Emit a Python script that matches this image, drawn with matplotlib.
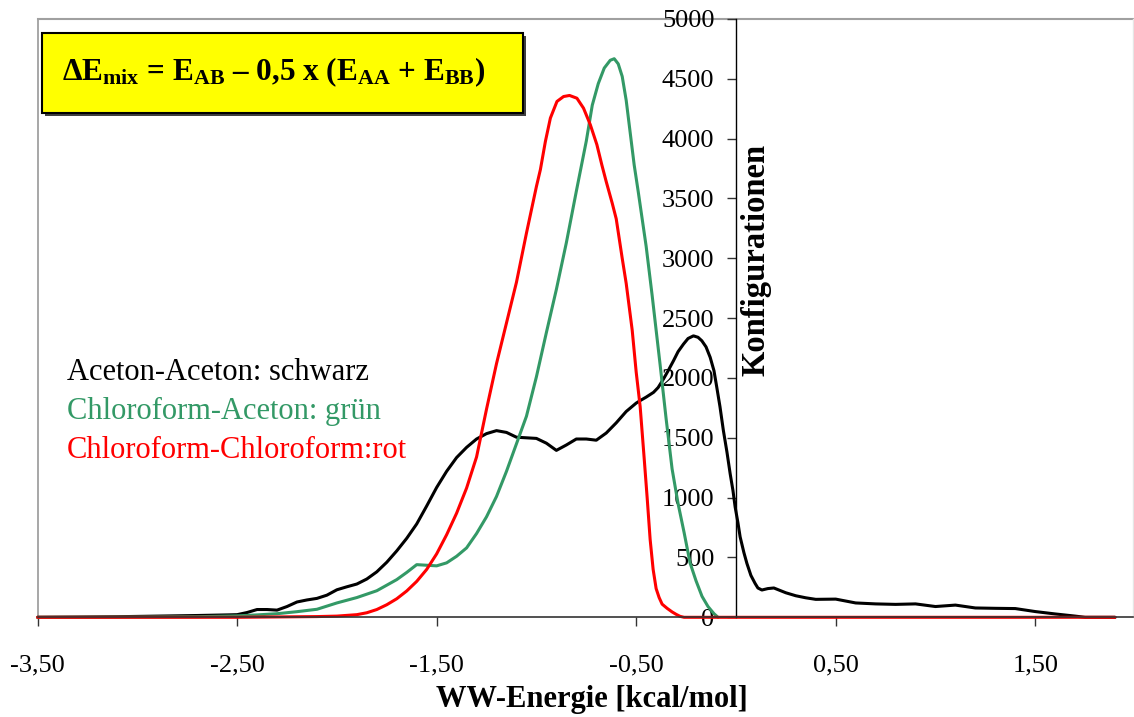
import matplotlib
matplotlib.use("Agg")
import matplotlib.pyplot as plt
from matplotlib.lines import Line2D
from matplotlib.patches import Rectangle

plt.rcParams['font.family'] = ['Liberation Serif', 'DejaVu Serif']
plt.rcParams['mathtext.fontset'] = 'custom'
plt.rcParams['mathtext.rm'] = 'Liberation Serif'
plt.rcParams['mathtext.bf'] = 'Liberation Serif:bold'
plt.rcParams['mathtext.it'] = 'Liberation Serif:italic'

# ---------------- data ----------------
black_x = [-3.5, -3.3, -3.1, -2.9, -2.7, -2.55, -2.5, -2.45, -2.4, -2.35, -2.3, -2.25, -2.2,
           -2.15, -2.1, -2.05, -2.0, -1.95, -1.9, -1.85, -1.8, -1.75, -1.7, -1.65, -1.6,
           -1.55, -1.5, -1.45, -1.4, -1.35, -1.3, -1.25, -1.2, -1.15, -1.1, -1.05, -1.0,
           -0.95, -0.9, -0.85, -0.8, -0.75, -0.7, -0.65, -0.6, -0.55, -0.5, -0.48, -0.45,
           -0.413, -0.39, -0.363, -0.34, -0.313, -0.29, -0.263, -0.24, -0.213, -0.19,
           -0.171, -0.15, -0.129, -0.11, -0.096, -0.08, -0.063, -0.045, -0.029, -0.015,
           -0.004, 0.01, 0.021, 0.04, 0.055, 0.075, 0.096, 0.11, 0.13, 0.16, 0.19, 0.22,
           0.25, 0.3, 0.35, 0.4, 0.5, 0.6, 0.7, 0.8, 0.9, 1.0, 1.1, 1.2, 1.3, 1.4, 1.5,
           1.6, 1.7, 1.75, 1.9]
black_y = [0, 2, 5, 10, 15, 20, 22, 40, 65, 65, 60, 90, 128,
           145, 158, 185, 230, 255, 278, 320, 380, 460, 555, 660, 780,
           930, 1085, 1220, 1335, 1420, 1490, 1535, 1560, 1545, 1505, 1500, 1495,
           1455, 1395, 1440, 1490, 1490, 1480, 1540, 1625, 1720, 1790, 1811, 1840,
           1880, 1920, 1992, 2060, 2144, 2220, 2283, 2330, 2352, 2340,
           2311, 2260, 2172, 2060, 1922, 1760, 1561, 1380, 1200, 1060,
           922, 790, 672, 540, 450, 350, 283, 245, 228, 240, 245, 225,
           205, 180, 163, 150, 152, 120, 112, 108, 112, 90, 102, 78, 75, 73, 48,
           28, 10, 0, 0]

green_x = [-3.5, -3.0, -2.7, -2.5, -2.4, -2.3, -2.2, -2.1, -2.0, -1.9, -1.8, -1.7, -1.65,
           -1.6, -1.55, -1.5, -1.45, -1.4, -1.35, -1.3, -1.25, -1.2, -1.15, -1.1, -1.05,
           -1.0, -0.95, -0.9, -0.85, -0.8, -0.75, -0.72, -0.69, -0.66, -0.63, -0.61,
           -0.59, -0.57, -0.55, -0.53, -0.51, -0.49, -0.47, -0.45, -0.42, -0.4, -0.38,
           -0.35, -0.32, -0.29, -0.26, -0.23, -0.2, -0.17, -0.14, -0.11, -0.09]
green_y = [0, 2, 5, 12, 20, 30, 47, 67, 120, 165, 222, 315, 375,
           440, 435, 430, 455, 510, 580, 700, 840, 1010, 1220, 1450, 1680,
           2010, 2380, 2740, 3130, 3560, 3980, 4280, 4460, 4590, 4655, 4668,
           4625, 4520, 4320, 4050, 3780, 3560, 3330, 3100, 2690, 2400, 2110,
           1660, 1240, 950, 710, 455, 305, 175, 90, 30, 0]

red_x = [-3.5, -2.5, -2.3, -2.1, -2.0, -1.9, -1.85, -1.8, -1.75, -1.7, -1.65, -1.6, -1.55,
         -1.5, -1.45, -1.4, -1.35, -1.3, -1.25, -1.2, -1.15, -1.1, -1.05, -1.0, -0.98,
         -0.955, -0.93, -0.897, -0.864, -0.834, -0.797, -0.764, -0.73, -0.697, -0.672,
         -0.65, -0.62, -0.6, -0.57, -0.55, -0.52, -0.5, -0.48, -0.46, -0.445, -0.43,
         -0.415, -0.4, -0.385, -0.37, -0.345, -0.32, -0.3, -0.28, -0.26, 1.9]
red_y = [0, 0, 3, 6, 10, 22, 38, 65, 105, 155, 220, 300, 400,
         530, 690, 870, 1080, 1340, 1740, 2120, 2460, 2800, 3210, 3600, 3742,
         3977, 4172, 4311, 4352, 4361, 4338, 4255, 4117, 3950, 3780,
         3640, 3460, 3330, 3000, 2790, 2400, 2050, 1760, 1330, 1000, 650,
         400, 240, 165, 110, 75, 45, 25, 8, 0, 0]

x_ticks = [-3.5, -2.5, -1.5, -0.5, 0.5, 1.5]
x_ticklabels = ['-3,50', '-2,50', '-1,50', '-0,50', '0,50', '1,50']
y_ticks = [0, 500, 1000, 1500, 2000, 2500, 3000, 3500, 4000, 4500, 5000]

legend_texts = ['Aceton-Aceton: schwarz', 'Chloroform-Aceton: grün', 'Chloroform-Chloroform:rot']
legend_colors = ['#000000', '#339966', '#ff0000']

# ---------------- figure ----------------
W, H = 1134, 717
fig = plt.figure(figsize=(W / 100, H / 100), dpi=100)
L, R, T, B = 37.6, 1133, 19, 617.3
ax = fig.add_axes([L / W, 1 - B / H, (R - L) / W, (B - T) / H])
ax.set_xlim(-3.5, 1.99)
ax.set_ylim(0, 5000)

line_kw = dict(lw=2.2, clip_on=False, solid_joinstyle='round', solid_capstyle='round')
ax.plot(black_x, black_y, color='#000000', zorder=2, **line_kw)
ax.plot(green_x, green_y, color='#339966', zorder=2.1, **line_kw)
ax.plot(red_x, red_y, color='#ff0000', zorder=2.2, **line_kw)

# spines / frame
ax.spines['left'].set_position(('data', 0))
ax.spines['left'].set_color('black')
ax.spines['left'].set_linewidth(1)
ax.spines['bottom'].set_color('#333333')
ax.spines['bottom'].set_linewidth(1.2)
ax.spines['top'].set_visible(False)
ax.spines['right'].set_visible(False)
ax.add_line(Line2D([0, 0], [0, 1], transform=ax.transAxes, color='#a0a0a0', lw=1.3, clip_on=False, zorder=0))
ax.add_line(Line2D([0, 1], [1, 1], transform=ax.transAxes, color='#a0a0a0', lw=1.5, clip_on=False, zorder=0))
ax.add_line(Line2D([1, 1], [0, 1], transform=ax.transAxes, color='#e6e6e6', lw=1, clip_on=False, zorder=0))

ax.set_xticks(x_ticks)
ax.set_xticklabels(x_ticklabels)
ax.set_yticks(y_ticks)
ax.set_yticklabels([str(v) for v in y_ticks])
ax.tick_params(axis='x', direction='out', length=6.5, width=1, pad=20, labelsize=19, color='#333333')
ax.tick_params(axis='y', direction='out', length=6.5, width=1, pad=9, labelsize=19, color='#333333')

# axis labels
fig.text(592 / W, 1 - 700 / H, 'WW-Energie [kcal/mol]', ha='center', va='center',
         fontsize=22, fontweight='bold')
fig.text(756 / W, 1 - 260 / H, 'Konfigurationen', ha='center', va='center',
         rotation=90, fontsize=23.5, fontweight='bold')

# legend text
for i, (t, c) in enumerate(zip(legend_texts, legend_colors)):
    fig.text(67 / W, 1 - (373 + 38.5 * i) / H, t, color=c, ha='left', va='center', fontsize=22)

# formula box
fig.add_artist(Rectangle((45 / W, 1 - 116 / H), (523 - 42) / W, (113 - 33) / H,
                         transform=fig.transFigure, facecolor='#404040', edgecolor='none'))
fig.add_artist(Rectangle((42 / W, 1 - 113 / H), (523 - 42) / W, (113 - 33) / H,
                         transform=fig.transFigure, facecolor='#ffff00', edgecolor='black', lw=1.5))
fig.text(62 / W, 1 - 72 / H,
         r'ΔE$_{\mathbf{mix}}$ = E$_{\mathbf{AB}}$ – 0,5 x (E$_{\mathbf{AA}}$ + E$_{\mathbf{BB}}$)',
         ha='left', va='center', fontsize=22.5, fontweight='bold')

fig.savefig('out.png', dpi=100)
